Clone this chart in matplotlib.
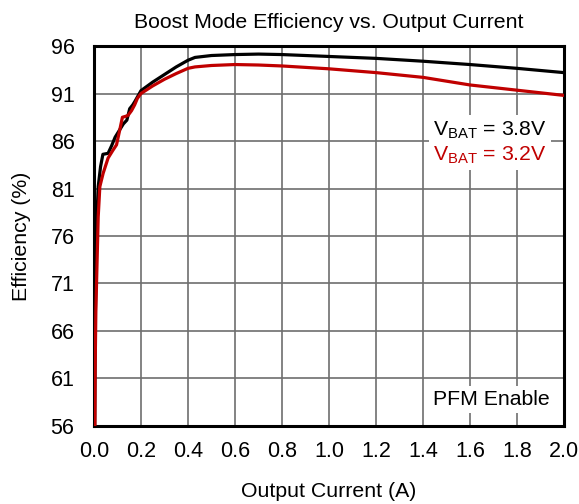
import matplotlib
matplotlib.use("Agg")
import matplotlib.pyplot as plt
from matplotlib.lines import Line2D

plt.rcParams['font.family'] = ['Liberation Sans', 'DejaVu Sans']
plt.rcParams['mathtext.fontset'] = 'custom'
plt.rcParams['mathtext.rm'] = 'Liberation Sans'

# Efficiency curves
black_x = [0.003, 0.006, 0.011, 0.018, 0.028, 0.038, 0.06, 0.075, 0.09, 0.11, 0.125, 0.14,
           0.152, 0.165, 0.175, 0.2, 0.25, 0.3, 0.35, 0.4, 0.43, 0.5, 0.6, 0.7, 0.8,
           1.0, 1.2, 1.4, 1.6, 1.8, 2.0]
black_y = [56, 68, 77, 81.2, 83.3, 84.6, 84.7, 85.5, 86.4, 87.2, 87.8, 88.2,
           89.4, 89.8, 90.2, 91.3, 92.2, 93.0, 93.8, 94.5, 94.8, 95.0, 95.1, 95.15, 95.1,
           94.9, 94.7, 94.4, 94.05, 93.65, 93.2]

red_x = [0.004, 0.005, 0.008, 0.012, 0.018, 0.025, 0.039, 0.06, 0.08, 0.096, 0.11, 0.121,
         0.135, 0.145, 0.16, 0.173, 0.185, 0.2, 0.25, 0.3, 0.35, 0.4, 0.43, 0.5, 0.6,
         0.7, 0.8, 1.0, 1.2, 1.4, 1.6, 1.8, 2.0]
red_y = [56, 62, 68, 72.1, 78, 81.2, 82.6, 84.2, 85.0, 85.6, 87.2, 88.5,
         88.6, 88.7, 89.2, 89.8, 90.5, 91.0, 91.8, 92.5, 93.1, 93.65, 93.8, 93.95, 94.05,
         94.0, 93.9, 93.6, 93.2, 92.7, 91.9, 91.35, 90.8]

x_ticks = [0.0, 0.2, 0.4, 0.6, 0.8, 1.0, 1.2, 1.4, 1.6, 1.8, 2.0]
y_ticks = [56, 61, 66, 71, 76, 81, 86, 91, 96]

RED = '#c00000'

fig = plt.figure(figsize=(5.79, 5.04), dpi=100)
ax = fig.add_axes([0.1623, 0.1548, 0.8117, 0.7539])

ax.plot(black_x, black_y, color='black', lw=2.3, zorder=6)
ax.plot(red_x, red_y, color=RED, lw=2.3, zorder=7)

ax.set_xlim(0, 2.0)
ax.set_ylim(56, 96)
ax.set_xticks(x_ticks)
ax.set_xticklabels([f'{v:.1f}' for v in x_ticks])
ax.set_yticks(y_ticks)
ax.tick_params(axis='x', length=0, labelsize=15.5, pad=11)
ax.tick_params(axis='y', length=0, labelsize=15.5, pad=14)
ax.grid(True, color='#6e6e6e', lw=1.2)
ax.set_axisbelow(True)
for s in ax.spines.values():
    s.set_linewidth(2.2)
    s.set_zorder(5)

ax.set_title('Boost Mode Efficiency vs. Output Current', fontsize=15.3, pad=13)
ax.set_xlabel('Output Current (A)', fontsize=15.3, labelpad=14)
ax.set_ylabel('Efficiency (%)', fontsize=15.3, labelpad=14)

handles = [Line2D([], [], lw=0), Line2D([], [], lw=0)]
leg = ax.legend(handles, [r'V$_{\rm BAT}$ = 3.8V', r'V$_{\rm BAT}$ = 3.2V'],
                loc='upper right', bbox_to_anchor=(0.995, 0.846),
                handlelength=0, handletextpad=0, labelcolor=['black', RED],
                fontsize=15.3, frameon=True, fancybox=False, framealpha=1,
                edgecolor='none', facecolor='white', borderpad=0.2,
                labelspacing=0.15)
leg.set_zorder(8)

ax.text(0.97, 0.07, 'PFM Enable', transform=ax.transAxes, ha='right', va='center',
        fontsize=15.3, zorder=8,
        bbox=dict(facecolor='white', edgecolor='none', pad=3))

fig.savefig('out.png', dpi=100)
